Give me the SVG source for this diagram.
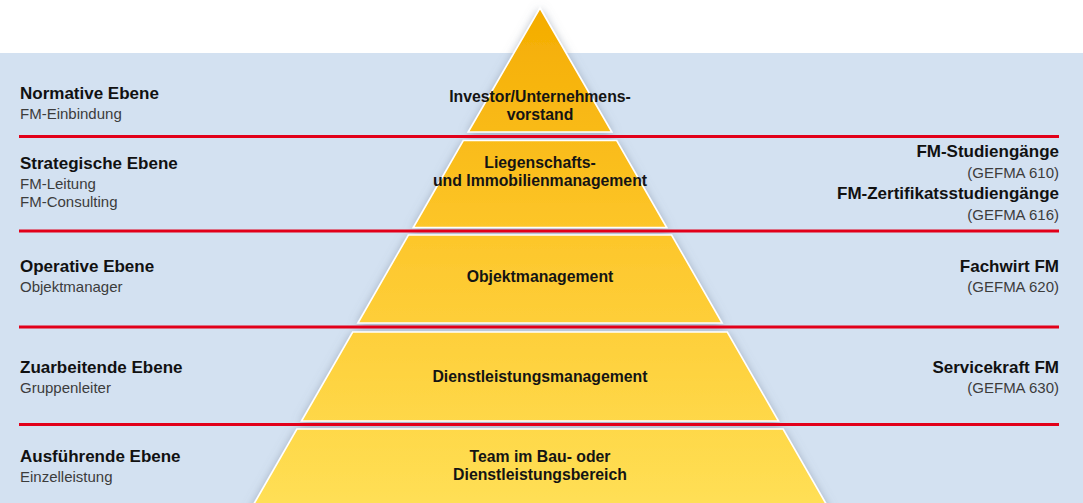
<svg xmlns="http://www.w3.org/2000/svg" width="1083" height="503" viewBox="0 0 1083 503">
  <defs>
    <linearGradient id="pyr" gradientUnits="userSpaceOnUse" x1="0" y1="8" x2="0" y2="503">
      <stop offset="0" stop-color="#F4AC00"/>
      <stop offset="0.45" stop-color="#FDC62A"/>
      <stop offset="1" stop-color="#FFDF55"/>
    </linearGradient>
    <filter id="shadow" x="-20%" y="-20%" width="140%" height="140%">
      <feGaussianBlur in="SourceAlpha" stdDeviation="5"/>
      <feOffset dx="0" dy="2" result="b"/>
      <feFlood flood-color="#6f7c90" flood-opacity="0.55"/>
      <feComposite in2="b" operator="in" result="s"/>
      <feMerge>
        <feMergeNode in="s"/>
        <feMergeNode in="SourceGraphic"/>
      </feMerge>
    </filter>
    <style>
      .seg { fill: url(#pyr); stroke: #ffffff; stroke-width: 1.6; stroke-linejoin: miter; }
      .red { stroke: #E2001A; stroke-width: 3; }
      .h { font-family: "Liberation Sans", Arial, sans-serif; font-weight: bold; font-size: 17px; fill: #111111; }
      .s { font-family: "Liberation Sans", Arial, sans-serif; font-size: 15px; fill: #3c3c3c; }
      .c { font-family: "Liberation Sans", Arial, sans-serif; font-weight: bold; font-size: 15.8px; fill: #141414; text-anchor: middle; }
      .r { text-anchor: end; }
    </style>
  </defs>

  <rect x="0" y="0" width="1083" height="503" fill="#ffffff"/>
  <rect x="0" y="53" width="1083" height="450" fill="#D3E1F1"/>

  <g id="pyramid" filter="url(#shadow)">
    <g id="seg-investor">
      <polygon class="seg" points="540,8 611.8,132 468.2,132"/>
    </g>
    <g id="seg-liegenschaft">
      <polygon class="seg" points="463.3,140.5 616.7,140.5 666.7,227.5 413.3,227.5"/>
    </g>
    <g id="seg-objekt">
      <polygon class="seg" points="408.4,235 671.6,235 722.1,323 357.9,323"/>
    </g>
    <g id="seg-dienst">
      <polygon class="seg" points="352.7,332 727.3,332 778.5,421 301.5,421"/>
    </g>
    <g id="seg-team">
      <polygon class="seg" points="296.9,429 783.1,429 829.6,510 250.4,510"/>
    </g>
  </g>

  <g id="connectors">
    <line class="red" x1="19" y1="136.5" x2="1059" y2="136.5"/>
    <line class="red" x1="19" y1="231" x2="1059" y2="231"/>
    <line class="red" x1="19" y1="327" x2="1059" y2="327"/>
    <line class="red" x1="19" y1="424.5" x2="1059" y2="424.5"/>
  </g>

  <g id="pyramid-labels">
    <text class="c" x="540" y="101.5">Investor/Unternehmens-</text>
    <text class="c" x="540" y="120">vorstand</text>
    <text class="c" x="540" y="167.7">Liegenschafts-</text>
    <text class="c" x="540" y="186">und Immobilienmanagement</text>
    <text class="c" x="540" y="281.7">Objektmanagement</text>
    <text class="c" x="540" y="382.3">Dienstleistungsmanagement</text>
    <text class="c" x="540" y="461.7">Team im Bau- oder</text>
    <text class="c" x="540" y="480">Dienstleistungsbereich</text>
  </g>

  <g id="level-normativ">
    <text class="h" x="20" y="99">Normative Ebene</text>
    <text class="s" x="20" y="118.7">FM-Einbindung</text>
  </g>
  <g id="level-strategisch">
    <text class="h" x="20" y="169">Strategische Ebene</text>
    <text class="s" x="20" y="189">FM-Leitung</text>
    <text class="s" x="20" y="207">FM-Consulting</text>
  </g>
  <g id="level-operativ">
    <text class="h" x="20" y="272.3">Operative Ebene</text>
    <text class="s" x="20" y="291.7">Objektmanager</text>
  </g>
  <g id="level-zuarbeitend">
    <text class="h" x="20" y="373.3">Zuarbeitende Ebene</text>
    <text class="s" x="20" y="392.7">Gruppenleiter</text>
  </g>
  <g id="level-ausfuehrend">
    <text class="h" x="20" y="462.3">Ausführende Ebene</text>
    <text class="s" x="20" y="481.7">Einzelleistung</text>
  </g>

  <g id="qual-studium">
    <text class="h r" x="1059" y="157.3">FM-Studiengänge</text>
    <text class="s r" x="1059" y="177.7">(GEFMA 610)</text>
    <text class="h r" x="1059" y="199.3">FM-Zertifikatsstudiengänge</text>
    <text class="s r" x="1059" y="220">(GEFMA 616)</text>
  </g>
  <g id="qual-fachwirt">
    <text class="h r" x="1059" y="272.3">Fachwirt FM</text>
    <text class="s r" x="1059" y="291.7">(GEFMA 620)</text>
  </g>
  <g id="qual-servicekraft">
    <text class="h r" x="1059" y="373.3">Servicekraft FM</text>
    <text class="s r" x="1059" y="392.7">(GEFMA 630)</text>
  </g>
</svg>
